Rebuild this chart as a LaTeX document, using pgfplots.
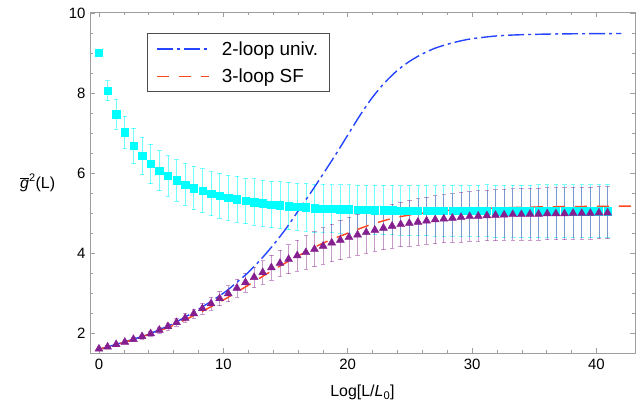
\documentclass[border=0pt]{standalone}
\usepackage{fontspec}
\setmainfont{Liberation Sans}
\usepackage{pgfplots}
\usepackage{pgfplotstable}
\pgfplotsset{compat=1.18}
\definecolor{mblue}{rgb}{0.15,0.27,1}
\definecolor{mred}{rgb}{1,0.28,0.12}
\definecolor{mcyan}{rgb}{0,1,1}
\definecolor{mpurple}{rgb}{0.52,0.12,0.56}
\definecolor{framegray}{rgb}{0.62,0.62,0.62}

\pgfplotstableread{
x y e
0.000 9.01 0.00
0.693 8.06 0.25
1.386 7.47 0.37
2.079 7.02 0.41
2.773 6.68 0.44
3.466 6.43 0.47
4.159 6.23 0.49
4.852 6.06 0.50
5.545 5.93 0.51
6.238 5.82 0.52
6.931 5.72 0.53
7.625 5.63 0.54
8.318 5.56 0.55
9.011 5.49 0.55
9.704 5.44 0.56
10.397 5.39 0.56
11.090 5.35 0.57
11.783 5.31 0.57
12.477 5.28 0.58
13.170 5.25 0.58
13.863 5.22 0.58
14.556 5.20 0.59
15.249 5.18 0.59
15.942 5.16 0.59
16.636 5.15 0.60
17.329 5.13 0.60
18.022 5.12 0.60
18.715 5.11 0.60
19.408 5.10 0.61
20.101 5.10 0.61
20.794 5.09 0.61
21.488 5.09 0.61
22.181 5.08 0.62
22.874 5.08 0.62
23.567 5.08 0.62
24.260 5.07 0.62
24.953 5.07 0.63
25.646 5.07 0.63
26.340 5.07 0.63
27.033 5.06 0.63
27.726 5.06 0.64
28.419 5.06 0.64
29.112 5.06 0.64
29.805 5.06 0.64
30.498 5.06 0.64
31.192 5.06 0.65
31.885 5.05 0.65
32.578 5.05 0.65
33.271 5.05 0.65
33.964 5.05 0.65
34.657 5.05 0.65
35.350 5.05 0.66
36.044 5.05 0.66
36.737 5.05 0.66
37.430 5.05 0.66
38.123 5.05 0.66
38.816 5.05 0.66
39.509 5.05 0.66
40.203 5.05 0.66
40.896 5.05 0.66
}\sqdata

\pgfplotstableread{
x y e
0.000 1.61 0.03
0.693 1.66 0.03
1.386 1.72 0.04
2.079 1.78 0.04
2.773 1.85 0.05
3.466 1.92 0.06
4.159 1.99 0.07
4.852 2.08 0.08
5.545 2.17 0.09
6.238 2.27 0.10
6.931 2.38 0.11
7.625 2.49 0.12
8.318 2.62 0.14
9.011 2.74 0.16
9.704 2.87 0.18
10.397 2.99 0.20
11.090 3.13 0.22
11.783 3.27 0.24
12.477 3.40 0.26
13.170 3.52 0.29
13.863 3.64 0.31
14.556 3.75 0.33
15.249 3.85 0.36
15.942 3.94 0.39
16.636 4.02 0.42
17.329 4.10 0.44
18.022 4.18 0.46
18.715 4.26 0.47
19.408 4.33 0.49
20.101 4.40 0.50
20.794 4.46 0.51
21.488 4.52 0.52
22.181 4.58 0.53
22.874 4.63 0.54
23.567 4.68 0.55
24.260 4.72 0.56
24.953 4.75 0.57
25.646 4.78 0.58
26.340 4.81 0.59
27.033 4.84 0.60
27.726 4.86 0.60
28.419 4.88 0.61
29.112 4.90 0.62
29.805 4.92 0.62
30.498 4.93 0.63
31.192 4.94 0.63
31.885 4.95 0.64
32.578 4.96 0.64
33.271 4.97 0.64
33.964 4.97 0.65
34.657 4.98 0.65
35.350 4.98 0.65
36.044 4.99 0.65
36.737 4.99 0.65
37.430 4.99 0.65
38.123 5.00 0.65
38.816 5.00 0.65
39.509 5.00 0.65
40.203 5.01 0.65
40.896 5.01 0.65
}\tridata

\begin{document}
\begin{tikzpicture}
\begin{axis}[
  scale only axis,
  width=545bp, height=341bp,
  xmin=-0.72, xmax=43.1,
  ymin=1.5, ymax=10.02,
  xtick={0,10,20,30,40},
  ytick={2,4,6,8,10},
  minor x tick num=4,
  minor y tick num=3,
  tick align=inside,
  major tick length=5bp,
  minor tick length=3bp,
  axis line style={framegray, line width=0.6pt},
  tick style={framegray, line width=0.5pt},
  /pgf/number format/assume math mode=true,
  ticklabel style={font=\fontsize{15}{18}\selectfont, black},
  xticklabel style={yshift=-2bp},
  yticklabel style={xshift=-1bp},
  xlabel={Log[L/\textit{L}\textsubscript{0}]},
  xlabel style={font=\fontsize{16}{19}\selectfont, at={(axis description cs:0.5,-0.115)}, anchor=center},
  ylabel={$\overline{\mbox{\itshape g}}^{\mbox{\fontsize{11}{12}\selectfont 2}}$(L)},
  ylabel style={font=\fontsize{16}{19}\selectfont, rotate=-90, at={(axis description cs:-0.096,0.5)}, anchor=center},
  legend cell align=left,
  legend style={at={(axis description cs:0.1046,0.939)}, anchor=north west,
    draw=black!70, line width=0.8pt, fill=white,
    font=\fontsize{19}{22}\selectfont,
    inner xsep=9bp, inner ysep=6bp, row sep=8bp,
    /tikz/every odd column/.append style={column sep=10bp}},
  legend image code/.code={\draw[#1, line width=1.4bp] (0bp,0bp) -- (52bp,0bp);},
  clip=true,
]
% cyan squares
\addplot[forget plot, only marks, mark=square*, mark size=3.7bp, mcyan,
  error bars/.cd, y dir=both, y explicit,
  error bar style={mcyan, opacity=0.55, line width=0.7bp},
  error mark options={rotate=90, mark size=2.2bp, mcyan, opacity=0.55, line width=0.7bp}]
  table[x=x, y=y, y error=e] {\sqdata};
% purple triangles
\addplot[forget plot, only marks, mark=triangle*, mark size=4.6bp, mpurple,
  error bars/.cd, y dir=both, y explicit,
  error bar style={mpurple, opacity=0.45, line width=0.7bp},
  error mark options={rotate=90, mark size=2.2bp, mpurple, opacity=0.45, line width=0.7bp}]
  table[x=x, y=y, y error=e] {\tridata};
% 2-loop univ
\addplot[mblue, line width=1.4bp, smooth, dash pattern=on 16bp off 4bp on 3bp off 4bp] coordinates {
(0,1.60) (2,1.78) (4,1.98) (6,2.25) (8,2.60) (10,3.00) (11,3.25) (12,3.52) (13,3.84)
(14,4.20) (15,4.60) (16,5.05) (17,5.50) (18,5.97) (19,6.45) (20,6.95) (21,7.45) (22,7.90)
(23,8.27) (24,8.57) (25,8.80) (26,8.98) (27,9.12) (28,9.22) (29,9.30) (30,9.36) (32,9.43)
(34,9.46) (37,9.48) (42,9.49)};
\addlegendentry{2-loop univ.}
% 3-loop SF
\addplot[mred, line width=1.4bp, smooth, dash pattern=on 12bp off 10bp] coordinates {
(0,1.60) (2,1.77) (4,1.97) (6,2.20) (8,2.50) (10,2.83) (12,3.20) (14,3.58) (16,3.93)
(18,4.25) (20,4.50) (22,4.73) (24,4.90) (26,5.00) (28,5.07) (30,5.11) (33,5.14) (36,5.16) (43.1,5.18)};
\addlegendentry{3-loop SF}
\end{axis}
\pgfresetboundingbox
\path (-90bp,-48.7bp) rectangle (549bp,353.3bp);
\end{tikzpicture}
\end{document}
